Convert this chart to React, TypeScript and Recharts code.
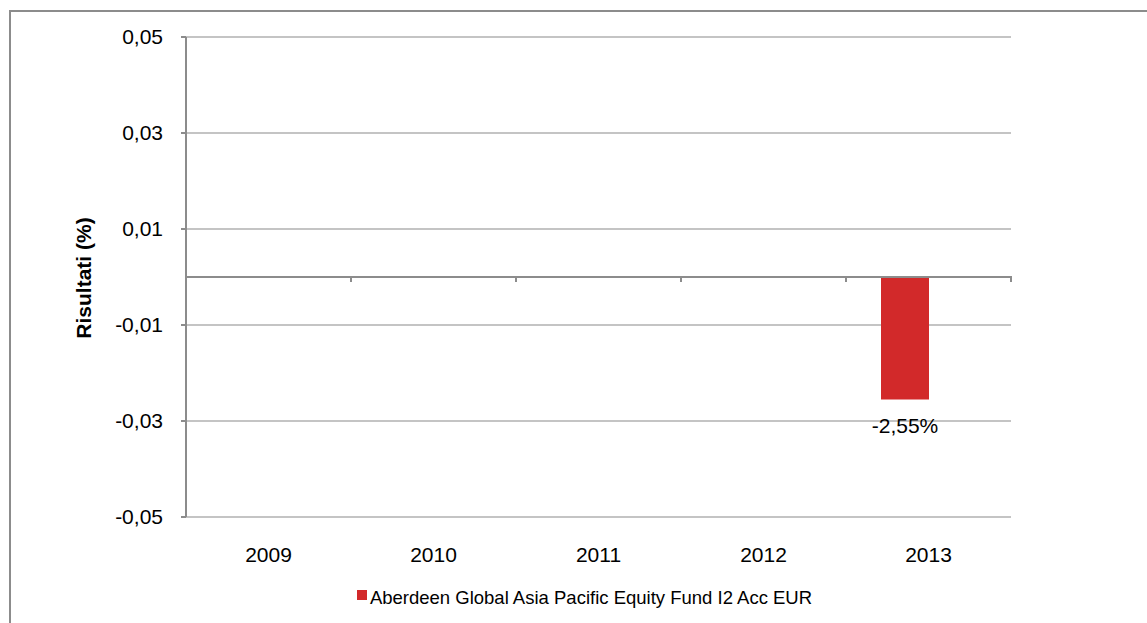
import React from 'react';
import { BarChart, Bar, XAxis, YAxis, CartesianGrid, Legend, ReferenceLine, LabelList } from 'recharts';

const FONT = '"Liberation Sans", Arial, Helvetica, sans-serif';

const years = ['2009', '2010', '2011', '2012', '2013'];
const fundReturns: (number | null)[] = [null, null, null, null, -0.0255];
const benchmarkReturns: (number | null)[] = [null, null, null, null, null];
const yTicks = [-0.05, -0.03, -0.01, 0.01, 0.03, 0.05];
const seriesName = 'Aberdeen Global Asia Pacific Equity Fund I2 Acc EUR';
const yTitle = 'Risultati (%)';

const data = years.map((year, i) => ({ year, fund: fundReturns[i], benchmark: benchmarkReturns[i] }));

const RED = '#D2292A';
const AXIS = '#8C8C8C';
const GRID = '#C4C4C4';

const fmtTick = (v: number) => v.toFixed(2).replace('.', ',');
const fmtPct = (v: number) => (v * 100).toFixed(2).replace('.', ',') + '%';

const ZeroLine = (p: any) => {
  const { x1, x2, y1 } = p;
  const n = years.length;
  const step = (x2 - x1) / n;
  const ticks = [];
  for (let i = 0; i <= n; i++) {
    const tx = x1 + step * i;
    ticks.push(<line key={i} x1={tx} x2={tx} y1={y1} y2={y1 + 5} stroke={AXIS} strokeWidth={2} />);
  }
  return (
    <g>
      <line x1={x1} x2={x2 + 1} y1={y1} y2={y1} stroke={AXIS} strokeWidth={2} />
      {ticks}
    </g>
  );
};

const BarLabel = (p: any) => {
  if (p.value == null) return null;
  const vb = p.viewBox || p;
  const x = Number(vb.x);
  const y = Number(vb.y);
  const w = Number(vb.width);
  const h = Number(vb.height);
  const bottom = Math.max(y, y + h);
  return (
    <text x={x + w / 2} y={bottom + 34} textAnchor="middle" fontFamily={FONT} fontSize={21} fill="#000">
      {fmtPct(Number(p.value))}
    </text>
  );
};

const YTitle = (p: any) => {
  const vb = p.viewBox || { x: 0, y: 25, width: 175, height: 480 };
  const x = vb.x + 80;
  const y = vb.y + vb.height / 2 + 1;
  return (
    <text x={x} y={y} transform={`rotate(-90, ${x}, ${y})`} textAnchor="middle" fontFamily={FONT} fontSize={21} fontWeight="bold" fill="#000">
      {yTitle}
    </text>
  );
};

const LegendContent = (p: any) => {
  const items = (p.payload || []).filter((e: any) => e.type !== 'none');
  return (
    <div style={{ display: 'flex', justifyContent: 'center', fontFamily: FONT, fontSize: 18.5, lineHeight: '21px', color: '#000' }}>
      {items.map((e: any) => (
        <div key={e.value} style={{ display: 'flex', alignItems: 'flex-start' }}>
          <span style={{ display: 'inline-block', width: 10, height: 10, background: e.color, marginTop: 3, marginRight: 3 }} />
          <span style={{ whiteSpace: 'nowrap' }}>{e.value}</span>
        </div>
      ))}
    </div>
  );
};

export default function App() {
  return (
    <div
      style={{
        position: 'absolute',
        left: 9,
        top: 10,
        width: 1138,
        height: 613,
        borderTop: `2px solid ${AXIS}`,
        borderLeft: `2px solid ${AXIS}`,
        boxSizing: 'border-box',
        background: '#fff',
      }}
    >
      <BarChart
        width={1136}
        height={611}
        data={data}
        margin={{ top: 25, right: 136, bottom: 66, left: 0 }}
        barSize={48}
        barGap={0}
      >
        <CartesianGrid horizontal vertical={false} stroke={GRID} strokeWidth={2} />
        <XAxis
          dataKey="year"
          axisLine={false}
          tickLine={false}
          tickSize={0}
          tickMargin={30}
          height={40}
          tick={{ fontFamily: FONT, fontSize: 21, fill: '#000' }}
          interval={0}
        />
        <YAxis
          type="number"
          domain={[-0.05, 0.05]}
          ticks={yTicks}
          tickFormatter={fmtTick}
          width={175}
          axisLine={{ stroke: AXIS, strokeWidth: 2 }}
          tickLine={{ stroke: AXIS, strokeWidth: 2 }}
          tickSize={5}
          tickMargin={18}
          tick={{ fontFamily: FONT, fontSize: 21, fill: '#000' }}
          allowDataOverflow
          label={<YTitle />}
        />
        <ReferenceLine y={0} shape={<ZeroLine />} />
        <Bar dataKey="fund" name={seriesName} fill={RED} isAnimationActive={false}>
          <LabelList dataKey="fund" content={<BarLabel />} />
        </Bar>
        <Bar dataKey="benchmark" name="benchmark" fill="#7f7f7f" legendType="none" isAnimationActive={false} />
        <Legend
          layout="horizontal"
          verticalAlign="middle"
          align="center"
          content={<LegendContent />}
          wrapperStyle={{ top: 575, left: 11, width: 1125, bottom: 'auto', right: 'auto' }}
        />
      </BarChart>
    </div>
  );
}
